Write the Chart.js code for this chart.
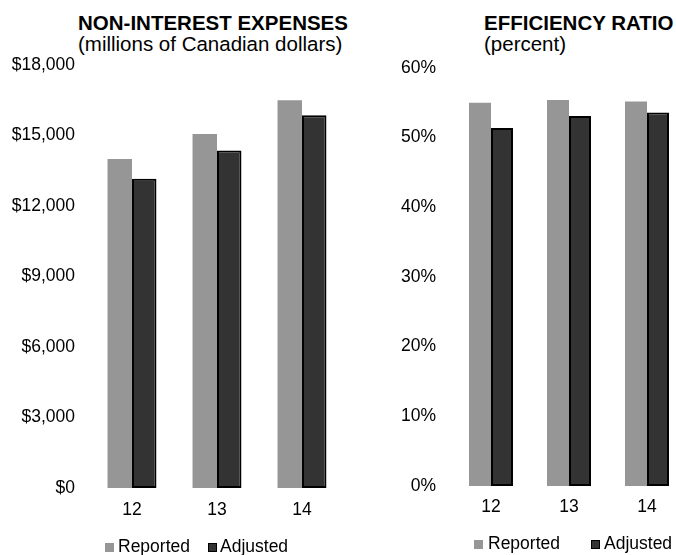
<!DOCTYPE html>
<html>
<head>
<meta charset="utf-8">
<script src="https://cdn.jsdelivr.net/npm/chart.js@4.4.1/dist/chart.umd.min.js"></script>
<style>
    html, body { margin: 0; padding: 0; background: #fff; overflow: hidden; }
    body { width: 676px; height: 555px; position: relative; font-family: "Liberation Sans", Arial, sans-serif; color: #000; }
    .titulo { position: absolute; font-size: 20.5px; line-height: 20.5px; white-space: nowrap; }
    .titulo b { font-weight: bold; }
    .panel { position: absolute; top: 0; height: 555px; overflow: hidden; }
    .leyenda { position: absolute; font-size: 17.5px; line-height: 20px; white-space: nowrap; }
    .leyenda span.item { position: absolute; top: 0; }
    .leyenda i { position: absolute; display: block; box-sizing: border-box; }
</style>
</head>
<body>

<div class="titulo" style="left:78px; top:13px;"><b>NON-INTEREST EXPENSES</b><br>(millions of Canadian dollars)</div>
<div class="titulo" style="left:484px; top:13px;"><b>EFFICIENCY RATIO</b><br>(percent)</div>

<div class="panel" style="left:0; width:350px;">
    <canvas id="gastosChart" width="350" height="555"></canvas>
</div>
<div class="panel" style="left:350px; width:326px;">
    <canvas id="eficienciaChart" width="340" height="555"></canvas>
</div>

<div class="leyenda" id="leyendaGastos" style="left:0; top:536px;"></div>
<div class="leyenda" id="leyendaEficiencia" style="left:0; top:533px;"></div>

<script>
// Datos
const years = ['12', '13', '14'];
const seriesNames = ['Reported', 'Adjusted'];

const expensesReported = [13998, 15069, 16496];
const expensesAdjusted = [13162, 14363, 15863];
const expensesTicks = [0, 3000, 6000, 9000, 12000, 15000, 18000];

const ratioReported = [55.0, 55.4, 55.2];
const ratioAdjusted = [51.4, 53.1, 53.6];
const ratioTicks = [0, 10, 20, 30, 40, 50, 60];

// Colores
const grayColor = '#969696';
const darkColor = '#333333';
const black = '#000000';

const fontFamily = "'Liberation Sans', Arial, sans-serif";

function buildChart(id, reported, adjusted, ticks, fmt, box) {
    const ctx = document.getElementById(id).getContext('2d');
    return new Chart(ctx, {
        type: 'bar',
        data: {
            labels: years,
            datasets: [
                {
                    label: seriesNames[0],
                    data: reported,
                    backgroundColor: grayColor,
                    borderWidth: 0
                },
                {
                    label: seriesNames[1],
                    data: adjusted,
                    backgroundColor: darkColor,
                    borderColor: black,
                    borderWidth: 2,
                    borderSkipped: false
                }
            ]
        },
        options: {
            responsive: false,
            animation: false,
            events: [],
            layout: {
                padding: { top: box.top, bottom: box.bottom, left: 0, right: box.right }
            },
            datasets: {
                bar: {
                    categoryPercentage: box.catPct,
                    barPercentage: 1
                }
            },
            plugins: {
                legend: { display: false },
                tooltip: { enabled: false }
            },
            scales: {
                x: {
                    grid: { display: false, drawTicks: false },
                    border: { display: false },
                    ticks: {
                        color: black,
                        padding: box.xPad,
                        font: { family: fontFamily, size: 17.5 }
                    },
                    afterFit: s => { s.height = 40; }
                },
                y: {
                    min: ticks[0],
                    max: ticks[ticks.length - 1],
                    grid: { display: false, drawTicks: false },
                    border: { display: false },
                    afterBuildTicks: s => { s.ticks = ticks.map(v => ({ value: v })); },
                    ticks: {
                        color: black,
                        padding: box.yPad,
                        font: { family: fontFamily, size: 17.5 },
                        callback: fmt
                    },
                    afterFit: s => { s.width = box.left; }
                }
            }
        }
    });
}

// Leyenda en HTML, a partir de los datasets del grafico
function buildLegend(chart, id, items) {
    const cont = document.getElementById(id);
    chart.data.datasets.forEach((ds, i) => {
        const it = items[i];
        const sq = document.createElement('i');
        sq.style.left = it.box + 'px';
        sq.style.top = '7px';
        sq.style.width = '9px';
        sq.style.height = '9px';
        sq.style.background = ds.backgroundColor;
        if (ds.borderWidth) sq.style.border = '1.5px solid ' + ds.borderColor;
        cont.appendChild(sq);
        const txt = document.createElement('span');
        txt.className = 'item';
        txt.style.left = it.text + 'px';
        txt.textContent = ds.label;
        cont.appendChild(txt);
    });
}

const gastosChart = buildChart('gastosChart', expensesReported, expensesAdjusted, expensesTicks,
    v => '$' + v.toLocaleString('en-US'),
    { top: 65, bottom: 27, right: 5.5, left: 89.5, catPct: 0.576, xPad: 12, yPad: 14.5 });

const eficienciaChart = buildChart('eficienciaChart', ratioReported, ratioAdjusted, ratioTicks,
    v => v + '%',
    { top: 68, bottom: 29, right: 4, left: 102, catPct: 0.564, xPad: 11, yPad: 16 });

buildLegend(gastosChart, 'leyendaGastos', [{ box: 105, text: 118 }, { box: 208, text: 220 }]);
buildLegend(eficienciaChart, 'leyendaEficiencia', [{ box: 474, text: 488 }, { box: 591, text: 604 }]);
</script>
</body>
</html>
